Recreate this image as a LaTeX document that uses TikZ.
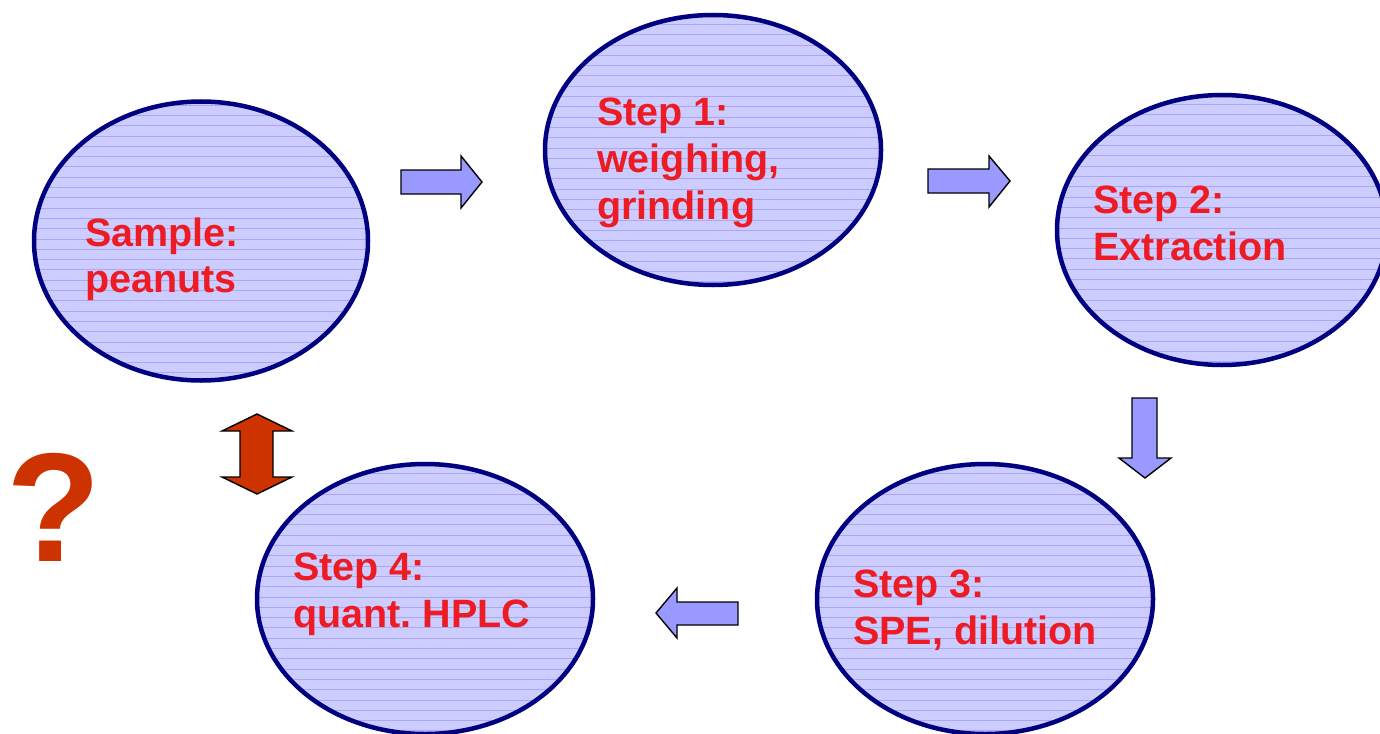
\documentclass[tikz,border=0pt]{standalone}
\usepackage{fontspec}
\setmainfont{Liberation Sans}
\definecolor{txtred}{HTML}{ED1C24}
\definecolor{ellfill}{HTML}{CCCCFF}
\definecolor{ellline}{HTML}{A8A8F5}
\definecolor{ellborder}{HTML}{000080}
\definecolor{arrfill}{HTML}{9999FF}
\definecolor{rust}{HTML}{CC3300}
\tikzset{
  stage/.style={ellipse, draw=ellborder, line width=4.5pt, fill=ellfill, inner sep=0pt,
    path picture={\foreach \k in {-16,...,16}
      \draw[ellline, line width=0.9pt] ([yshift=\k*10.3pt+2pt]path picture bounding box.west) -- ([yshift=\k*10.3pt+2pt]path picture bounding box.east);}},
  lbl/.style={text=txtred, font=\fontsize{39.5}{46}\selectfont\bfseries\frenchspacing, inner sep=0pt, anchor=base west},
  blockarrow/.style={draw=black, line width=1.4pt, fill=arrfill, line join=miter},
  dblarrow/.style={draw=black, line width=1.4pt, fill=rust, line join=miter},
}
\usetikzlibrary{shapes.geometric}
\begin{document}
\begin{tikzpicture}[x=1pt,y=-1pt]
\useasboundingbox (0,0) rectangle (1380,733);
% ellipses
\node[stage, minimum width=334pt, minimum height=279pt] (e0) at (201,241) {};
\node[stage, minimum width=336pt, minimum height=270pt] (e1) at (713,150) {};
\node[stage, minimum width=330pt, minimum height=270pt] (e2) at (1222,230) {};
\node[stage, minimum width=336pt, minimum height=270pt] (e3) at (985,599) {};
\node[stage, minimum width=336pt, minimum height=270pt] (e4) at (425,599) {};
% labels
\node[lbl] (l0a) at (85,246) {Sample:};
\node[lbl] (l0b) at (85,292) {peanuts};
\node[lbl] (l1a) at (597,125) {Step 1:};
\node[lbl] (l1b) at (597,172) {weighing,};
\node[lbl] (l1c) at (597,219) {grinding};
\node[lbl] (l2a) at (1093,213) {Step 2:};
\node[lbl] (l2b) at (1093,260) {Extraction};
\node[lbl] (l3a) at (853,597) {Step 3:};
\node[lbl] (l3b) at (853,644) {SPE, dilution};
\node[lbl] (l4a) at (293,580) {Step 4:};
\node[lbl] (l4b) at (293,627) {quant. HPLC};
% block arrows
\draw[blockarrow] (401,170) -- (461,170) -- (461,156) -- (482,182) -- (461,208) -- (461,194) -- (401,194) -- cycle;
\draw[blockarrow] (928,169) -- (989,169) -- (989,156) -- (1010,181) -- (989,207) -- (989,193) -- (928,193) -- cycle;
\draw[blockarrow] (1132,398) -- (1157,398) -- (1157,458) -- (1171,458) -- (1145,478) -- (1119,458) -- (1132,458) -- cycle;
\draw[blockarrow] (738,602) -- (677,602) -- (677,588) -- (656,613) -- (677,638) -- (677,625) -- (738,625) -- cycle;
\draw[dblarrow] (257,414) -- (292,431) -- (273,431) -- (273,477) -- (292,477) -- (257,494) -- (222,477) -- (240,477) -- (240,431) -- (222,431) -- cycle;
% question mark
\node[text=rust, font=\fontsize{155}{155}\selectfont\bfseries, inner sep=0pt, anchor=base west] (q) at (6,561) {?};
\end{tikzpicture}
\end{document}
